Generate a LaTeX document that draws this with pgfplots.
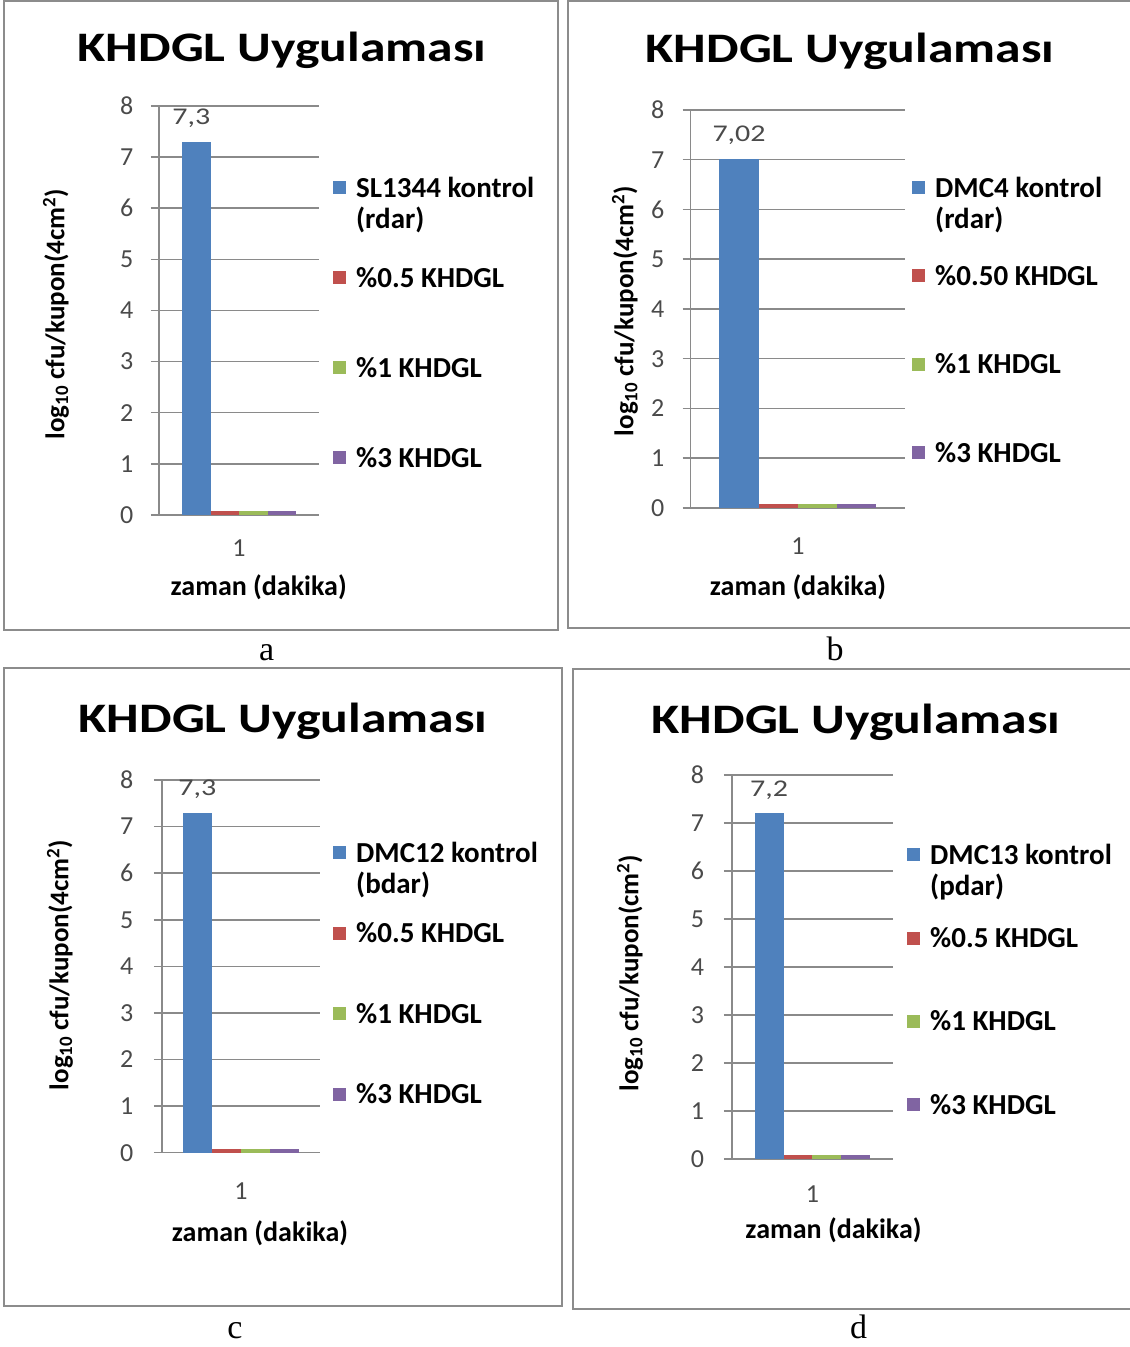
\documentclass[border=0pt]{standalone}
\usepackage{fontspec}
\usepackage{pgfplots}
\pgfplotsset{compat=1.18}
\setmainfont{Carlito}
\newfontfamily\headfont[FakeStretch=1.23]{Carlito}
\newfontfamily\widefont[FakeStretch=1.25]{Carlito}
\newfontfamily\capfont{Liberation Serif}

\definecolor{serA}{HTML}{4F81BD}
\definecolor{serB}{HTML}{C0504D}
\definecolor{serC}{HTML}{9BBB59}
\definecolor{serD}{HTML}{8064A2}
\definecolor{gridc}{HTML}{8A8A8A}
\definecolor{framec}{HTML}{8C8C8C}
\definecolor{tickc}{HTML}{4A4A4A}

\pgfplotsset{
  khdgl/.style={
    scale only axis,
    axis x line*=bottom, axis y line*=left,
    axis line style={draw=gridc, line width=1.5pt, -},
    xmin=0.5, xmax=1.5, ymin=0, ymax=8,
    xtick={1}, ytick={0,1,...,8},
    ymajorgrids, grid style={draw=gridc, line width=1.5pt},
    xtick style={draw=none}, xtick align=inside,
    ytick style={draw=gridc, line width=1.5pt}, ytick align=outside,
    major tick length=8pt,
    /pgf/number format/assume math mode=true,
    tick label style={font=\fontsize{26}{28}\selectfont, text=tickc},
    yticklabel style={anchor=east, inner sep=0pt},
    xticklabel style={anchor=north, inner sep=0pt},
    xlabel style={font=\bfseries\fontsize{28}{30}\selectfont, anchor=center},
    ylabel style={font=\bfseries\fontsize{27}{30}\selectfont, anchor=center},
    xlabel={zaman (dakika)},
    ybar=0pt,
    clip=false,
    legend image code/.code={\draw[##1,draw=none] (0pt,3pt) rectangle (13pt,16pt);},
    legend style={draw=none, fill=none, inner sep=0pt, row sep=0pt,
      column sep=10pt, anchor=north west, cells={anchor=base west},
      font=\bfseries\fontsize{29}{31}\selectfont,
      nodes={inner sep=0pt, text height=20pt}},
  },
  valuelabel/.style={
    nodes near coords={\pgfmathprintnumber[use comma,assume math mode=true]{\pgfplotspointmeta}},
    nodes near coords style={inner sep=0pt, yshift=14pt,
      font=\widefont\fontsize{24}{26}\selectfont, text=tickc},
  },
}

\begin{document}
\begin{tikzpicture}[x=1pt,y=1pt]
\useasboundingbox (0,0) rectangle (1130,1347);

% panel frames
\draw[framec, line width=2pt] (4,1346) rectangle (558,717);
\draw[framec, line width=2pt] (568,1346) rectangle (1132,719);
\draw[framec, line width=2pt] (4,679) rectangle (562,41);
\draw[framec, line width=2pt] (573,678) rectangle (1132,38);

% titles
\node[anchor=base, font=\headfont\bfseries\fontsize{42}{46}\selectfont] at (282,1285) {KHDGL Uygulaması};
\node[anchor=base, font=\headfont\bfseries\fontsize{42}{46}\selectfont] at (850,1284) {KHDGL Uygulaması};
\node[anchor=base, font=\headfont\bfseries\fontsize{42}{46}\selectfont] at (283,614) {KHDGL Uygulaması};
\node[anchor=base, font=\headfont\bfseries\fontsize{42}{46}\selectfont] at (856,613) {KHDGL Uygulaması};

% captions
\node[anchor=base, font=\capfont\fontsize{34}{36}\selectfont] at (266.7,686) {a};
\node[anchor=base, font=\capfont\fontsize{34}{36}\selectfont] at (835,686) {b};
\node[anchor=base, font=\capfont\fontsize{34}{36}\selectfont] at (235,9) {c};
\node[anchor=base, font=\capfont\fontsize{34}{36}\selectfont] at (858.7,9) {d};

% (a) SL1344
\begin{axis}[khdgl, at={(159pt,832pt)}, anchor=south west,
  width=160pt, height=409pt, bar width=28.5pt,
  yticklabel style={xshift=-17.5pt},
  xticklabel style={yshift=-17pt},
  xlabel style={at={(axis description cs:0.623,-0.1775)}},
  ylabel style={at={(axis description cs:-0.644,0.491)}},
  ylabel={log\textsubscript{10} cfu/kupon(4cm\textsuperscript{2})},
  legend style={at={(1.0875,0.8264)}, nodes={text depth=70pt}}]
\addplot[fill=serA, draw=none, valuelabel, nodes near coords style={xshift=-5pt}] coordinates {(1,7.3)};
\addlegendentry{\parbox[t]{220pt}{SL1344 kontrol\\(rdar)}}
\addplot[fill=serB, draw=none] coordinates {(1,0.08)};
\addlegendentry{\%0.5 KHDGL}
\addplot[fill=serC, draw=none] coordinates {(1,0.08)};
\addlegendentry{\%1 KHDGL}
\addplot[fill=serD, draw=none] coordinates {(1,0.08)};
\addlegendentry{\%3 KHDGL}
\end{axis}

% (b) DMC4
\begin{axis}[khdgl, at={(690.7pt,839pt)}, anchor=south west,
  width=214.3pt, height=398pt, bar width=39.2pt,
  yticklabel style={xshift=-18.2pt},
  xticklabel style={yshift=-21.5pt},
  xlabel style={at={(axis description cs:0.5007,-0.1985)}},
  ylabel style={at={(axis description cs:-0.3066,0.495)}},
  ylabel={log\textsubscript{10} cfu/kupon(4cm\textsuperscript{2})},
  legend style={at={(1.0327,0.8317)}, nodes={text depth=68.3pt}}]
\addplot[fill=serA, draw=none, valuelabel] coordinates {(1,7.02)};
\addlegendentry{\parbox[t]{220pt}{DMC4 kontrol\\(rdar)}}
\addplot[fill=serB, draw=none] coordinates {(1,0.08)};
\addlegendentry{\%0.50 KHDGL}
\addplot[fill=serC, draw=none] coordinates {(1,0.08)};
\addlegendentry{\%1 KHDGL}
\addplot[fill=serD, draw=none] coordinates {(1,0.08)};
\addlegendentry{\%3 KHDGL}
\end{axis}

% (c) DMC12
\begin{axis}[khdgl, at={(162pt,194.3pt)}, anchor=south west,
  width=158pt, height=372.7pt, bar width=29.1pt,
  yticklabel style={xshift=-20.5pt},
  xticklabel style={yshift=-21.5pt},
  xlabel style={at={(axis description cs:0.620,-0.2155)}},
  ylabel style={at={(axis description cs:-0.6456,0.5036)}},
  ylabel={log\textsubscript{10} cfu/kupon(4cm\textsuperscript{2})},
  legend style={at={(1.0823,0.8337)}, nodes={text depth=60.5pt}}]
\addplot[fill=serA, draw=none, valuelabel] coordinates {(1,7.3)};
\addlegendentry{\parbox[t]{220pt}{DMC12 kontrol\\(bdar)}}
\addplot[fill=serB, draw=none] coordinates {(1,0.08)};
\addlegendentry{\%0.5 KHDGL}
\addplot[fill=serC, draw=none] coordinates {(1,0.08)};
\addlegendentry{\%1 KHDGL}
\addplot[fill=serD, draw=none] coordinates {(1,0.08)};
\addlegendentry{\%3 KHDGL}
\end{axis}

% (d) DMC13
\begin{axis}[khdgl, at={(731.8pt,188pt)}, anchor=south west,
  width=161.2pt, height=384pt, bar width=28.9pt,
  yticklabel style={xshift=-19.5pt},
  xticklabel style={yshift=-18.5pt},
  xlabel style={at={(axis description cs:0.631,-0.1849)}},
  ylabel style={at={(axis description cs:-0.6315,0.4844)}},
  ylabel={log\textsubscript{10} cfu/kupon(cm\textsuperscript{2})},
  legend style={at={(1.0869,0.8203)}, nodes={text depth=63.3pt}}]
\addplot[fill=serA, draw=none, valuelabel] coordinates {(1,7.2)};
\addlegendentry{\parbox[t]{220pt}{DMC13 kontrol\\(pdar)}}
\addplot[fill=serB, draw=none] coordinates {(1,0.08)};
\addlegendentry{\%0.5 KHDGL}
\addplot[fill=serC, draw=none] coordinates {(1,0.08)};
\addlegendentry{\%1 KHDGL}
\addplot[fill=serD, draw=none] coordinates {(1,0.08)};
\addlegendentry{\%3 KHDGL}
\end{axis}
\end{tikzpicture}
\end{document}
